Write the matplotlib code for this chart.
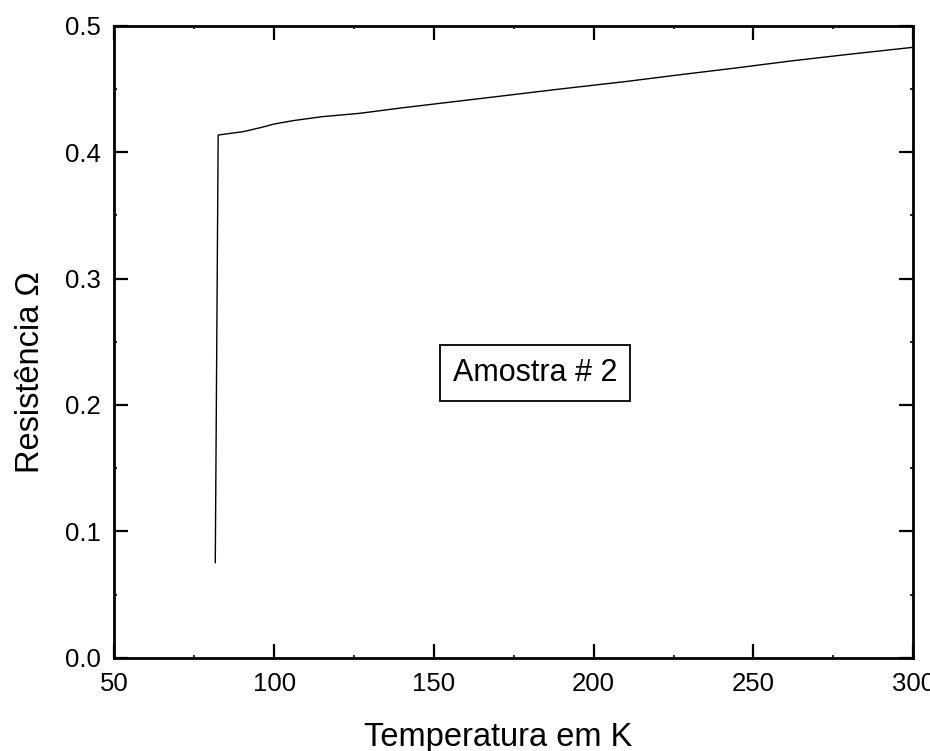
import matplotlib
matplotlib.use("Agg")
import matplotlib.pyplot as plt
from matplotlib.ticker import MultipleLocator

plt.rcParams['font.family'] = ['Liberation Sans', 'DejaVu Sans']

# Resistance vs temperature measurement, sample #2
temperature_K = [81.6, 82.5, 90.4, 96.0, 100.0, 106.0, 115.0, 126.9, 140.0,
                 155.0, 170.0, 189.5, 210.0, 227.0, 245.0, 261.4, 280.0, 300.0]
resistance_ohm = [0.0752, 0.4135, 0.4162, 0.4195, 0.4222, 0.4249, 0.4280, 0.4307,
                  0.4350, 0.4395, 0.4440, 0.4499, 0.4558, 0.4612, 0.4667, 0.4720,
                  0.4774, 0.4829]

x_ticks = [50, 100, 150, 200, 250, 300]
y_ticks = [0.0, 0.1, 0.2, 0.3, 0.4, 0.5]
x_tick_labels = ["50", "100", "150", "200", "250", "300"]
y_tick_labels = ["0.0", "0.1", "0.2", "0.3", "0.4", "0.5"]

fig = plt.figure(figsize=(9.3, 7.51), dpi=100)
ax = fig.add_axes([0.1229, 0.1242, 0.8591, 0.8416])

ax.plot(temperature_K, resistance_ohm, color='black', linewidth=1.0)

ax.set_xlim(50, 300)
ax.set_ylim(0, 0.5)
ax.set_xticks(x_ticks)
ax.set_xticklabels(x_tick_labels)
ax.set_yticks(y_ticks)
ax.set_yticklabels(y_tick_labels)
ax.xaxis.set_minor_locator(MultipleLocator(25))
ax.yaxis.set_minor_locator(MultipleLocator(0.05))

ax.tick_params(which='major', direction='in', length=10, width=1.6,
               labelsize=18.5, top=True, right=True)
ax.tick_params(which='minor', direction='in', length=2, width=1.2,
               top=True, right=True)
ax.tick_params(axis='x', which='major', pad=10)
ax.tick_params(axis='y', which='major', pad=10)

for spine in ax.spines.values():
    spine.set_linewidth(2.0)

ax.set_xlabel("Temperatura em K", fontsize=23.5)
ax.set_ylabel("Resistência Ω", fontsize=23.5)
ax.xaxis.set_label_coords(0.48, -0.101)
ax.yaxis.set_label_coords(-0.085, 0.452)

ax.text(181.6, 0.2252, "Amostra # 2", fontsize=22, ha='center', va='center',
        bbox=dict(boxstyle='square,pad=0.42', facecolor='white',
                  edgecolor='black', linewidth=1.3))

fig.savefig("out.png", dpi=100)
